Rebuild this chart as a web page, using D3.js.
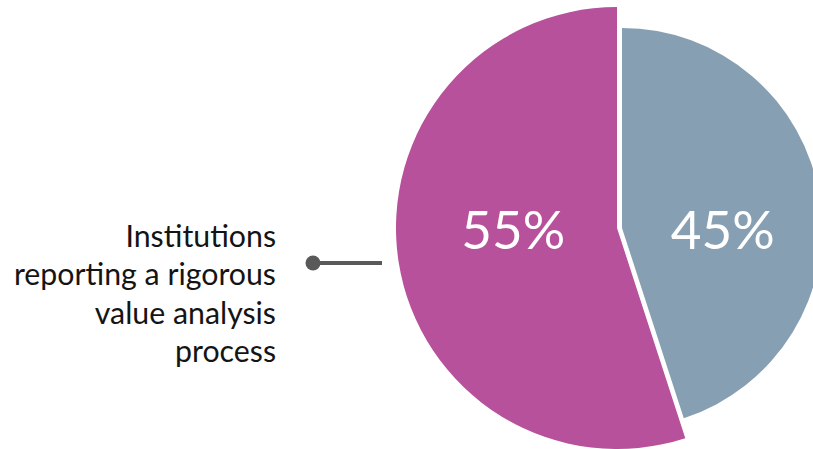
<!DOCTYPE html>
<html>
<head>
<meta charset="utf-8">
<script src="https://cdn.jsdelivr.net/npm/d3@7"></script>
<style>
  body { margin: 0; background: #fff; }
  svg { display: block; font-family: Lato, "Open Sans", sans-serif; }
</style>
</head>
<body>
<svg id="chart"></svg>
<script>
// data
const categories = ['Rigorous value analysis', 'Other'];
const shares = [45, 55];
const shareLabels = ['45%', '55%'];
const colors = ['#879fb2', '#b8519b'];
const annotationLines = ['Institutions', 'reporting a rigorous', 'value analysis', 'process'];

const width = 813;
const height = 449;

const svg = d3.select('#chart')
  .attr('width', width)
  .attr('height', height);

const slices = d3.pie().sort(null).value(d => d)(shares);

// grey slice is smaller and nudged right of the magenta one
const layout = [
  { cx: 622, cy: 228, r: 200, labelR: 1.02 },
  { cx: 617, cy: 228, r: 221, labelR: 0.95 }
];

const g = svg.append('g');

slices.forEach((s, i) => {
  const arc = d3.arc().innerRadius(0).outerRadius(layout[i].r);
  const sg = g.append('g')
    .attr('transform', `translate(${layout[i].cx},${layout[i].cy})`);
  sg.append('path')
    .attr('d', arc(s))
    .attr('fill', colors[i]);

  const c = d3.arc().innerRadius(0).outerRadius(layout[i].r * layout[i].labelR).centroid(s);
  sg.append('text')
    .attr('x', c[0])
    .attr('y', 8)
    .attr('text-anchor', 'middle')
    .attr('dominant-baseline', 'middle')
    .attr('fill', '#fff')
    .attr('font-size', 53)
    .text(shareLabels[i]);
});

// annotation on the left
const note = svg.append('text')
  .attr('text-anchor', 'end')
  .attr('fill', '#141414')
  .attr('font-size', 30.3);
annotationLines.forEach((t, i) => {
  note.append('tspan')
    .attr('x', 276)
    .attr('y', 247 + i * 38.3)
    .text(t);
});

svg.append('line')
  .attr('x1', 312).attr('x2', 382)
  .attr('y1', 263).attr('y2', 263)
  .attr('stroke', '#595959')
  .attr('stroke-width', 4);
svg.append('circle')
  .attr('cx', 313).attr('cy', 263)
  .attr('r', 7.5)
  .attr('fill', '#595959');
</script>
</body>
</html>
